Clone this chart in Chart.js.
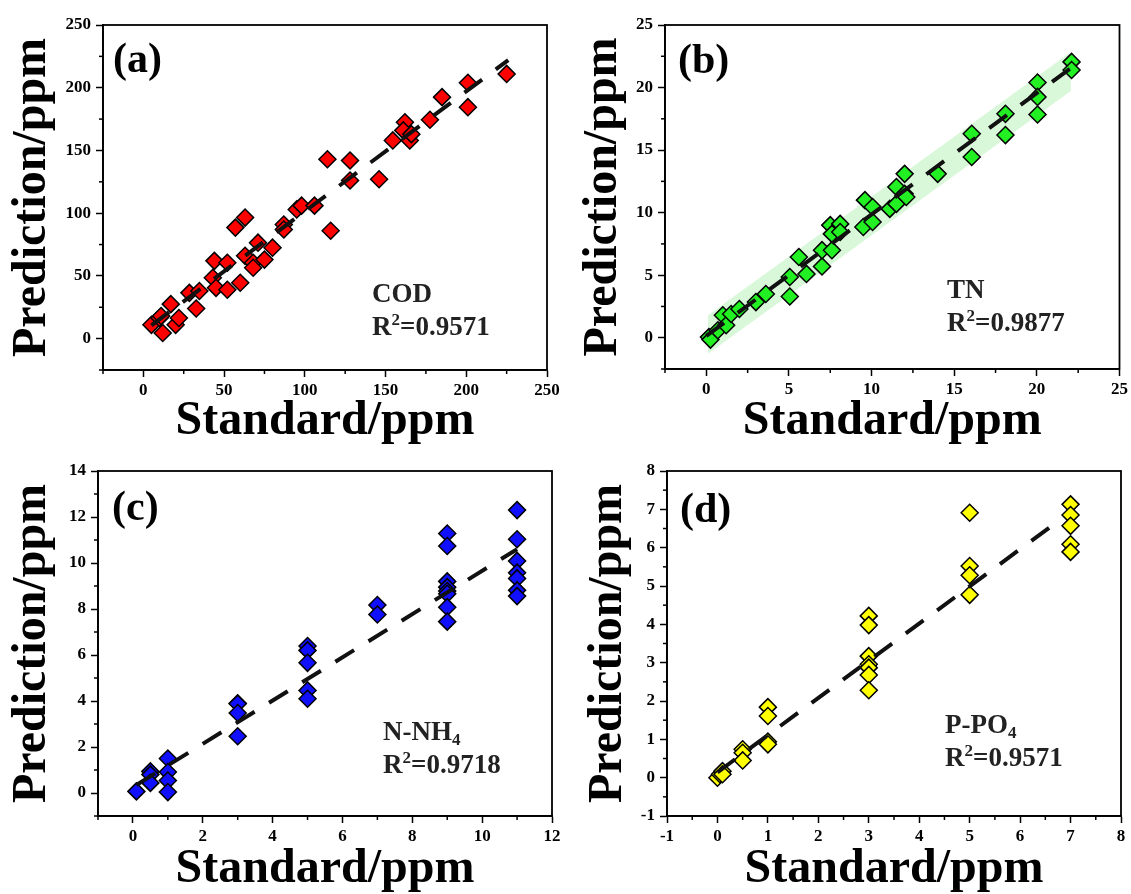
<!DOCTYPE html>
<html>
<head>
<meta charset="utf-8">
<script src="https://cdn.jsdelivr.net/npm/chart.js@4.4.1/dist/chart.umd.min.js"></script>
<style>
  body { margin: 0; background: #fff; }
  #wrap { position: relative; width: 1131px; height: 894px; }
  canvas { position: absolute; }
</style>
</head>
<body>
<div id="wrap">
  <canvas id="pa" width="565" height="450" style="left:0;top:0"></canvas>
  <canvas id="pb" width="566" height="450" style="left:565px;top:0"></canvas>
  <canvas id="pc" width="565" height="444" style="left:0;top:450px"></canvas>
  <canvas id="pd" width="566" height="444" style="left:565px;top:450px"></canvas>
</div>
<script>
// (a) COD
const codStandard = [5, 10, 12, 11, 17, 20, 22, 28.5, 32.7, 34.7, 44, 43, 45, 52, 52, 60, 57, 63, 63, 68, 68, 71, 75, 80, 87, 87, 95, 98, 106, 114, 116, 128, 128, 146, 154.5, 162, 161, 165, 166, 177.5, 185, 201, 201, 225];
const codPredicted = [11, 16.5, 4.5, 18, 27.5, 11, 16.5, 36.5, 24, 38, 62, 48.5, 40.5, 60.5, 39, 44.5, 88.5, 96.5, 66, 60.5, 56.5, 76.5, 63, 72.5, 91, 87, 103, 106, 106, 143, 86, 142, 126, 127, 158, 172.5, 166, 158, 163, 174.5, 192.5, 204, 184.5, 211];
const codFitX = [5, 226];
const codFitY = [10.6, 222];
const codRange = [-25, 250];
const codSteps = [25, 50];

// (b) TN
const tnStandard = [0.16, 0.25, 0.7, 1.0, 1.2, 1.5, 2.0, 3.0, 3.6, 5.05, 5.05, 5.6, 6.06, 7.0, 7.0, 7.6, 7.5, 7.6, 8.1, 8.1, 9.5, 9.6, 10.06, 10.06, 11.1, 11.5, 11.5, 12.0, 12.0, 12.1, 14.0, 16.06, 16.06, 18.1, 18.1, 20.04, 20.04, 20.04, 22.1, 22.1];
const tnPredicted = [0.05, -0.15, 0.6, 1.8, 1.0, 1.9, 2.3, 2.85, 3.5, 3.3, 4.85, 6.45, 5.1, 5.7, 7.0, 7.0, 9.0, 8.3, 9.1, 8.45, 8.85, 11.0, 10.45, 9.25, 10.3, 10.7, 12.05, 13.1, 11.5, 11.25, 13.1, 16.3, 14.45, 17.9, 16.2, 20.4, 19.25, 17.85, 22.05, 21.4];
const tnFitX = [0, 22];
const tnFitY = [0.15, 21.5];
const tnBandX = [0.1, 22.06];
const tnBandUpper = [1.8, 22.85];
const tnBandLower = [-1.28, 19.73];
const tnRange = [-2.5, 25];
const tnSteps = [2.5, 5];

// (c) N-NH4
const nhStandard = [0.1, 0.5, 0.5, 0.5, 1, 1, 1, 1, 3, 3, 3, 3, 5, 5, 5, 5, 5, 7, 7, 9, 9, 9, 9, 9, 9, 9, 9, 11, 11, 11, 11, 11, 11, 11];
const nhPredicted = [0.07, 0.94, 0.8, 0.44, 1.5, 0.91, 0.54, 0.04, 3.9, 3.88, 3.48, 2.47, 6.39, 6.2, 5.66, 4.46, 4.1, 8.17, 7.76, 11.28, 10.74, 9.2, 8.95, 8.78, 8.66, 8.08, 7.45, 12.3, 11.03, 10.09, 9.58, 9.33, 8.81, 8.56];
const nhFitX = [0.1, 11];
const nhFitY = [0.35, 10.6];
const nhRangeX = [-1, 12];
const nhRangeY = [-1, 14];
const nhSteps = [1, 2];

// (d) P-PO4
const poStandard = [0, 0.05, 0.1, 0.1, 0.5, 0.5, 0.5, 1, 1, 1, 1, 3, 3, 3, 3, 3, 3, 3, 5, 5, 5, 5, 7, 7, 7, 7, 7];
const poPredicted = [0, 0.09, 0.17, 0.09, 0.74, 0.65, 0.45, 1.84, 1.61, 0.94, 0.87, 4.22, 3.98, 3.17, 2.96, 2.87, 2.68, 2.28, 6.91, 5.52, 5.28, 4.77, 7.13, 6.85, 6.57, 6.09, 5.89];
const poFitX = [0, 6.7];
const poFitY = [0.14, 6.64];
const poRange = [-1, 8];
const poSteps = [0.5, 1];

const SERIF = '"Liberation Serif", "Times New Roman", serif';

function pts(xs, ys) {
  return xs.map((x, i) => ({ x: x, y: ys[i] }));
}

function isMajor(v, major) {
  const r = v / major;
  return Math.abs(r - Math.round(r)) < 1e-6;
}

// draws a text run with optional sub/superscript parts
function drawParts(ctx, x, y, parts, size) {
  parts.forEach(p => {
    const small = p.sub || p.sup;
    ctx.font = 'bold ' + (small ? Math.round(size * 0.62) : size) + 'px ' + SERIF;
    const dy = p.sup ? -size * 0.38 : (p.sub ? size * 0.2 : 0);
    ctx.fillText(p.t, x, y + dy);
    x += ctx.measureText(p.t).width;
  });
}

const panelDeco = {
  id: 'panelDeco',
  afterDraw(chart, args, opts) {
    const ctx = chart.ctx;
    const a = chart.chartArea;
    ctx.save();
    // frame
    ctx.strokeStyle = '#000';
    ctx.lineWidth = 1.8;
    ctx.strokeRect(a.left, a.top, a.right - a.left, a.bottom - a.top);
    // minor ticks
    ctx.lineWidth = 1.5;
    const xs = chart.scales.x, ys = chart.scales.y;
    xs.ticks.forEach(t => {
      if (isMajor(t.value, opts.majorX)) return;
      const px = xs.getPixelForValue(t.value);
      ctx.beginPath(); ctx.moveTo(px, a.bottom); ctx.lineTo(px, a.bottom + 4); ctx.stroke();
    });
    ys.ticks.forEach(t => {
      if (isMajor(t.value, opts.majorY)) return;
      const py = ys.getPixelForValue(t.value);
      ctx.beginPath(); ctx.moveTo(a.left, py); ctx.lineTo(a.left - 4, py); ctx.stroke();
    });
    // texts
    ctx.textBaseline = 'alphabetic';
    ctx.textAlign = 'left';
    ctx.fillStyle = '#000';
    ctx.font = 'bold 42px ' + SERIF;
    ctx.fillText(opts.tag, a.left + opts.tagPos[0], a.top + opts.tagPos[1]);
    ctx.fillStyle = '#222';
    drawParts(ctx, a.left + opts.namePos[0], a.top + opts.namePos[1], opts.name, 27);
    drawParts(ctx, a.left + opts.namePos[0], a.top + opts.namePos[1] + 33, opts.r2, 27);
    ctx.restore();
  }
};

function axis(range, steps, title, fitSize, isX, titlePad) {
  return {
    type: 'linear',
    min: range[0],
    max: range[1],
    afterFit: s => { if (isX) s.height = fitSize; else s.width = fitSize; },
    border: { display: true, color: '#000', width: 1.8 },
    grid: {
      drawOnChartArea: false,
      drawTicks: true,
      tickLength: 7,
      tickWidth: 1.5,
      tickColor: c => (c.tick && isMajor(c.tick.value, steps[1])) ? '#000' : 'rgba(0,0,0,0)'
    },
    ticks: {
      stepSize: steps[0],
      autoSkip: false,
      maxRotation: 0,
      padding: isX ? 3 : 5,
      color: '#000',
      font: { family: SERIF, size: 17, weight: 'bold' },
      callback: v => isMajor(v, steps[1]) ? v : ''
    },
    title: {
      display: true,
      text: title,
      color: '#000',
      font: { family: SERIF, size: 48, weight: 'bold', lineHeight: 1 },
      padding: isX ? { top: 0, bottom: titlePad } : { top: titlePad, bottom: 0 }
    }
  };
}

function makePanel(id, p) {
  const datasets = [
    {
      data: pts(p.fitX, p.fitY),
      showLine: true,
      borderColor: '#111',
      borderWidth: 4,
      borderDash: [22, 17],
      pointRadius: 0,
      order: 0
    },
    {
      data: pts(p.std, p.pred),
      pointStyle: 'rectRot',
      pointRadius: 8.5,
      backgroundColor: p.color,
      borderColor: '#000',
      borderWidth: 1.5,
      order: 1
    }
  ];
  if (p.bandX) {
    datasets.push({
      data: pts(p.bandX, p.bandUp),
      showLine: true, borderWidth: 0, pointRadius: 0, fill: false, order: 3
    });
    datasets.push({
      data: pts(p.bandX, p.bandLo),
      showLine: true, borderWidth: 0, pointRadius: 0,
      fill: '-1', backgroundColor: 'rgba(140,235,140,0.33)', order: 2
    });
  }
  new Chart(document.getElementById(id), {
    type: 'scatter',
    data: { datasets: datasets },
    options: {
      responsive: false,
      animation: false,
      devicePixelRatio: 1,
      layout: { padding: p.pad },
      scales: {
        x: axis(p.rangeX, p.steps, 'Standard/ppm', p.xH, true, p.xTitlePad),
        y: axis(p.rangeY, p.steps, 'Prediction/ppm', p.yW, false, p.yTitlePad)
      },
      plugins: {
        legend: { display: false },
        tooltip: { enabled: false },
        panelDeco: {
          majorX: p.steps[1], majorY: p.steps[1],
          tag: p.tag, tagPos: p.tagPos, name: p.name, namePos: p.namePos, r2: p.r2
        }
      }
    },
    plugins: [panelDeco]
  });
}

makePanel('pa', {
  std: codStandard, pred: codPredicted, fitX: codFitX, fitY: codFitY,
  rangeX: codRange, rangeY: codRange, steps: codSteps, color: '#ff0000',
  pad: { left: 0, top: 25, right: 18, bottom: 0 }, yW: 103, xH: 80, xTitlePad: 4, yTitlePad: 9,
  tag: '(a)', tagPos: [10, 47], namePos: [269, 277],
  name: [{ t: 'COD' }], r2: [{ t: 'R' }, { t: '2', sup: true }, { t: '=0.9571' }]
});

makePanel('pb', {
  std: tnStandard, pred: tnPredicted, fitX: tnFitX, fitY: tnFitY,
  bandX: tnBandX, bandUp: tnBandUpper, bandLo: tnBandLower,
  rangeX: tnRange, rangeY: tnRange, steps: tnSteps, color: '#22f022',
  pad: { left: 0, top: 25, right: 11, bottom: 0 }, yW: 100, xH: 81, xTitlePad: 4, yTitlePad: 15,
  tag: '(b)', tagPos: [13, 48], namePos: [282, 273],
  name: [{ t: 'TN' }], r2: [{ t: 'R' }, { t: '2', sup: true }, { t: '=0.9877' }]
});

makePanel('pc', {
  std: nhStandard, pred: nhPredicted, fitX: nhFitX, fitY: nhFitY,
  rangeX: nhRangeX, rangeY: nhRangeY, steps: nhSteps, color: '#1010ff',
  pad: { left: 0, top: 21, right: 13, bottom: 0 }, yW: 98, xH: 78, xTitlePad: 0, yTitlePad: 9,
  tag: '(c)', tagPos: [14, 49], namePos: [285, 269],
  name: [{ t: 'N-NH' }, { t: '4', sub: true }], r2: [{ t: 'R' }, { t: '2', sup: true }, { t: '=0.9718' }]
});

makePanel('pd', {
  std: poStandard, pred: poPredicted, fitX: poFitX, fitY: poFitY,
  rangeX: poRange, rangeY: poRange, steps: poSteps, color: '#ffff00',
  pad: { left: 0, top: 21, right: 6, bottom: 0 }, yW: 102, xH: 78, xTitlePad: 0, yTitlePad: 20,
  tag: '(d)', tagPos: [13, 51], namePos: [278, 262],
  name: [{ t: 'P-PO' }, { t: '4', sub: true }], r2: [{ t: 'R' }, { t: '2', sup: true }, { t: '=0.9571' }]
});
</script>
</body>
</html>
